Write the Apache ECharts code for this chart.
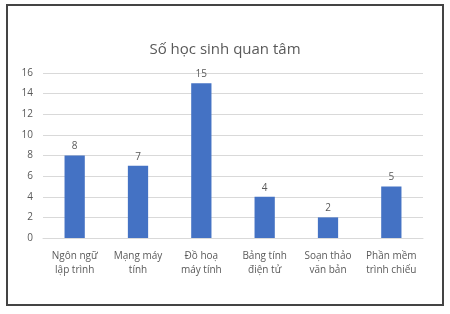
<!DOCTYPE html>
<html><head><meta charset="utf-8">
<script src="https://cdn.jsdelivr.net/npm/echarts@6/dist/echarts.min.js"></script>
<style>
html,body{margin:0;padding:0;background:#fff;}
#frame{position:absolute;left:6px;top:4px;width:434px;height:298px;border:2px solid #444;box-sizing:content-box;}
#c{position:absolute;left:0;top:0;width:450px;height:314px;}
</style></head>
<body>
<div id="frame"></div>
<div id="c"></div>
<script>
var categories = ["Ngôn ngữ\nlập trình", "Mạng máy\ntính", "Đồ hoạ\nmáy tính", "Bảng tính\nđiện tử", "Soạn thảo\nvăn bản", "Phần mềm\ntrình chiếu"];
var values = [8, 7, 15, 4, 2, 5];
var yTicks = {min: 0, max: 16, interval: 2};

var chart = echarts.init(document.getElementById('c'), null, {renderer: 'canvas'});
chart.setOption({
  animation: false,
  title: {
    text: 'Số học sinh quan tâm',
    left: 'center',
    top: 37,
    textStyle: {fontFamily: 'Open Sans', fontSize: 15, fontWeight: 'normal', color: '#595959'}
  },
  grid: {left: 43, right: 27, top: 73, bottom: 76},
  xAxis: {
    type: 'category',
    data: categories,
    axisLine: {show: true, lineStyle: {color: '#d9d9d9'}},
    axisTick: {show: false},
    axisLabel: {fontFamily: 'Open Sans', fontSize: 10, color: '#595959', lineHeight: 14, margin: 11, interval: 0}
  },
  yAxis: {
    type: 'value',
    min: yTicks.min, max: yTicks.max, interval: yTicks.interval,
    axisLine: {show: false},
    axisTick: {show: false},
    splitLine: {lineStyle: {color: '#d9d9d9'}},
    axisLabel: {fontFamily: 'Open Sans', fontSize: 10, color: '#595959', margin: 10}
  },
  series: [{
    type: 'bar',
    data: values,
    barWidth: '32%',
    itemStyle: {color: '#4472C4'},
    label: {show: true, position: 'top', fontFamily: 'Open Sans', fontSize: 10, color: '#595959', distance: 4}
  }]
});
</script>
</body></html>
